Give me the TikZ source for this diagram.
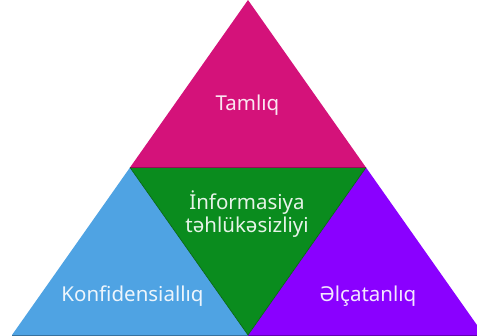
\documentclass[tikz,border=0pt]{standalone}
\usepackage{fontspec}
\setmainfont{Noto Sans}
\definecolor{tamc}{HTML}{D4127A}
\definecolor{infc}{HTML}{0A8C1E}
\definecolor{konc}{HTML}{4FA3E3}
\definecolor{elc}{HTML}{8A00FF}
\tikzset{
  part/.style={line width=0.6pt, line join=miter},
  lbl/.style={text=white, text opacity=0.9, font=\fontsize{20.5}{23}\selectfont, align=center, inner sep=0pt},
}
\begin{document}
\begin{tikzpicture}[x=1pt,y=-1pt]
\useasboundingbox (0,0) rectangle (477,336);
\clip (0,0) rectangle (477,336);
% corner and mid points of the triangle
\coordinate (A) at (248,0);
\coordinate (L) at (12,335);
\coordinate (R) at (484,335);
\coordinate (ML) at (130,167.5);
\coordinate (MR) at (366,167.5);
\coordinate (MB) at (248,335);
% four sub-triangles
\fill[tamc] (A) -- (ML) -- (MR) -- cycle;
\fill[konc] (ML) -- (L) -- (MB) -- cycle;
\fill[elc] (MR) -- (MB) -- (R) -- cycle;
\fill[infc] (ML) -- (MR) -- (MB) -- cycle;
\draw[part, tamc!70!black] (ML) -- (MR);
\draw[part, infc!70!black] (ML) -- (MB) -- (MR);
\draw[part, konc!70!black] (L) -- (MB);
\draw[part, elc!70!black] (MB) -- (R);
% labels
\node[lbl, anchor=base] (tam) at (247.5,111) {Tamlıq};
\node[lbl] (inf) at (247,214) {İnformasiya\\təhlükəsizliyi};
\node[lbl, anchor=base] (kon) at (132.5,302) {Konfidensiallıq};
\node[lbl, anchor=base] (elc) at (368,302) {Əlçatanlıq};
\end{tikzpicture}
\end{document}
